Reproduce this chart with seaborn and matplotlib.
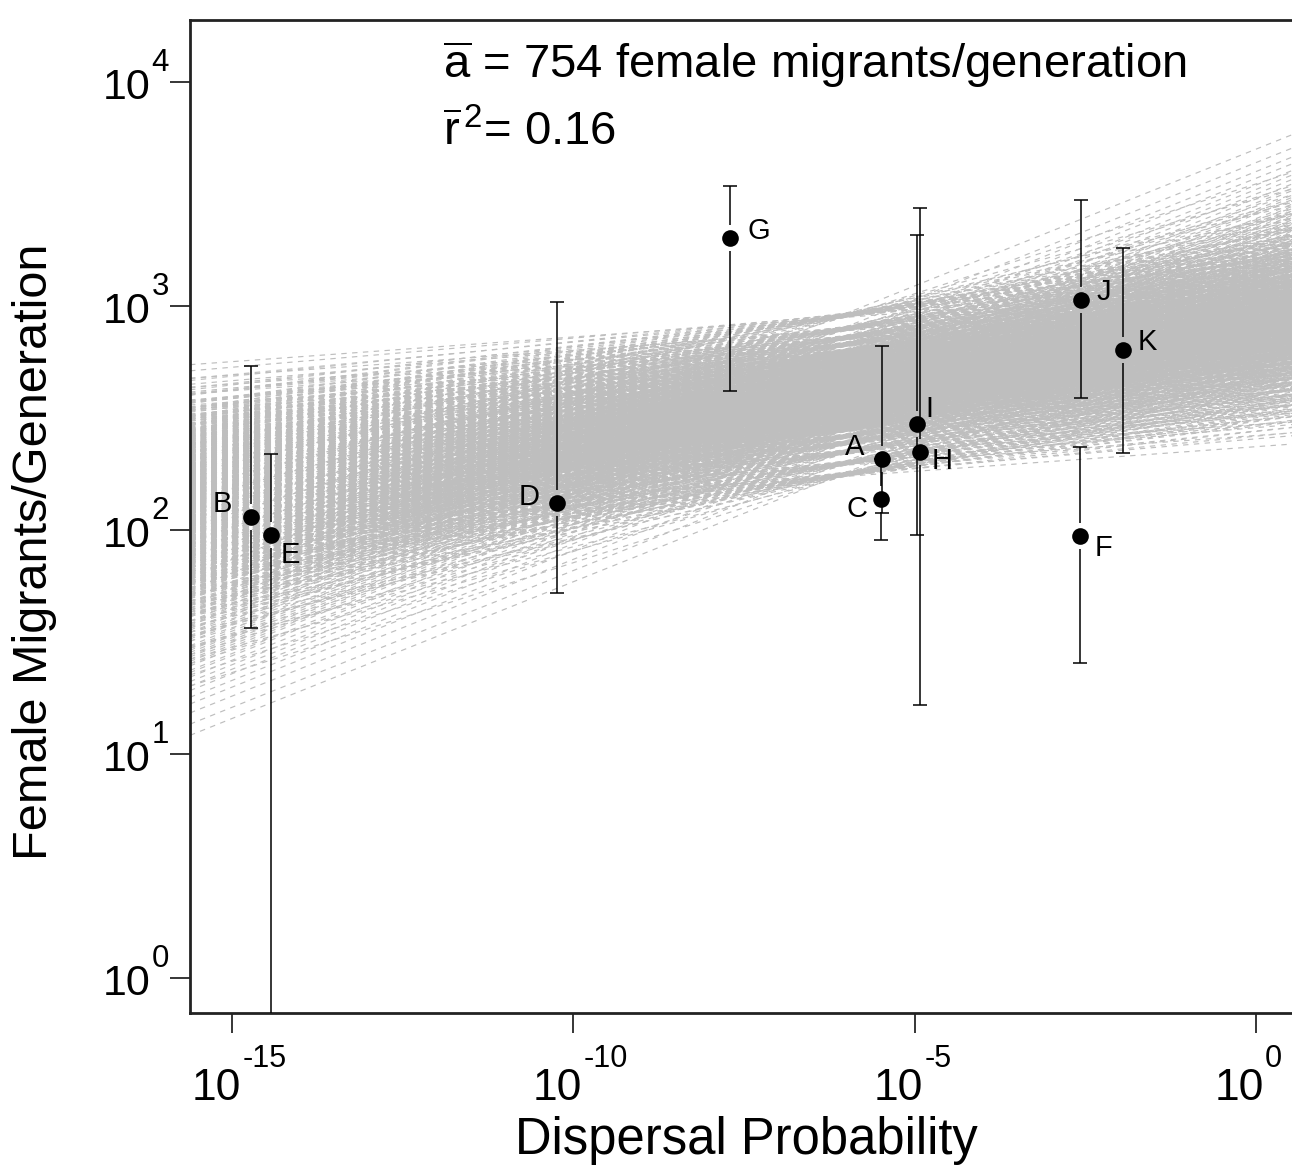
import numpy as np
import pandas as pd
import matplotlib
matplotlib.use("Agg")
import matplotlib.pyplot as plt
import seaborn as sns
from matplotlib.collections import LineCollection
from matplotlib.ticker import FixedLocator, NullLocator, NullFormatter

# ---------------- data ----------------
populations = ["A", "B", "C", "D", "E", "F", "G", "H", "I", "J", "K"]
log10_dispersal = [-5.48, -14.73, -5.49, -10.24, -14.44, -2.57, -7.71, -4.92, -4.96, -2.56, -1.94]
migrants = [207, 114, 138, 132, 95, 94, 2018, 223, 297, 1064, 636]
ci_upper = [666, 540, 207, 1038, 219, 234, 3443, 2738, 2080, 2965, 1820]
ci_lower = [118.6, 36.5, 90.2, 52.5, 0.1, 25.4, 419, 16.5, 95, 388, 220]

# regression draws: log10(M) = level + level_shift + slope * (log10(p) - pivot)
draw_pivot_log10 = -6.0
draw_levels = [2.24, 2.29, 2.34, 2.38, 2.41, 2.44, 2.46, 2.48, 2.50, 2.52, 2.53, 2.55,
               2.56, 2.57, 2.58, 2.59, 2.60, 2.61, 2.62, 2.63, 2.64, 2.66, 2.67, 2.68,
               2.70, 2.71, 2.73, 2.75, 2.77, 2.79, 2.82, 2.85, 2.89, 2.95]
draw_slopes = [0.022, 0.026, 0.029, 0.031, 0.033, 0.035, 0.037, 0.038, 0.040, 0.041,
               0.042, 0.043, 0.044, 0.045, 0.046, 0.047, 0.048, 0.049, 0.050, 0.051,
               0.052, 0.054, 0.055, 0.057, 0.059, 0.061, 0.064, 0.067, 0.070, 0.074,
               0.079, 0.086, 0.098, 0.122]
draw_level_shift = [0.000, 0.011, 0.005, 0.016, 0.002, 0.013, 0.008, 0.019, 0.004, 0.015,
                    0.001, 0.010, 0.006, 0.017, 0.003, 0.012, 0.007, 0.018, 0.009, 0.014,
                    0.0005, 0.0115, 0.0055, 0.0165, 0.0025, 0.0135, 0.0085, 0.0195, 0.0045,
                    0.0155, 0.0015, 0.0105, 0.0065, 0.0175]

x_tick_exponents = [-15, -10, -5, 0]
y_tick_exponents = [0, 1, 2, 3, 4]
mean_a = 754
mean_r2 = 0.16

# label offsets (points) relative to each point
label_offsets = {"A": (-19.4, 11.0), "B": (-20.7, 11.7), "C": (-17.5, -5.8), "D": (-20.4, 6.5),
                 "E": (14.3, -12.6), "F": (16.8, -6.5), "G": (20.9, 6.6), "H": (16.2, -4.3),
                 "I": (8.4, 13.0), "J": (16.6, 7.6), "K": (17.6, 7.6)}

# ---------------- style ----------------
sns.set_style("ticks")
plt.rcParams["font.family"] = ["Liberation Sans", "DejaVu Sans"]
plt.rcParams["mathtext.fontset"] = "custom"
plt.rcParams["mathtext.rm"] = "Liberation Sans"
plt.rcParams["mathtext.it"] = "Liberation Sans:italic"
plt.rcParams["mathtext.bf"] = "Liberation Sans:bold"
plt.rcParams["lines.scale_dashes"] = False
for k in ["text.color", "axes.labelcolor", "xtick.color", "ytick.color"]:
    plt.rcParams[k] = "black"

W, H = 1292, 1166
fig = plt.figure(figsize=(W / 100, H / 100), dpi=100)
ax_left, ax_right, ax_top, ax_bottom = 190, 1292, 20, 1013
ax = fig.add_axes([ax_left / W, 1 - ax_bottom / H, (ax_right - ax_left) / W, (ax_bottom - ax_top) / H])
ax.set_xscale("log")
ax.set_yscale("log")
xlo, xhi = -15.623, 0.535
ylo, yhi = -0.156, 4.277
ax.set_xlim(10 ** xlo, 10 ** xhi)
ax.set_ylim(10 ** ylo, 10 ** yhi)

# ---------------- regression draws ----------------
seg_x = np.array([xlo, xhi + 0.3])
segs = []
for lev in draw_levels:
    for sl, sh in zip(draw_slopes, draw_level_shift):
        ly = lev + sh + sl * (seg_x - draw_pivot_log10)
        segs.append(np.column_stack([10 ** seg_x, 10 ** ly]))
lc = LineCollection(segs, colors="#BEBEBE", linewidths=0.85,
                    linestyles=[(0, (3.9, 3.9))], zorder=1)
ax.add_collection(lc)

# ---------------- error bars with gap ----------------
df = pd.DataFrame({"pop": populations,
                   "dispersal": [10 ** v for v in log10_dispersal],
                   "migrants": migrants, "upper": ci_upper, "lower": ci_lower})
px_per_dec = (ax_bottom - ax_top) / (yhi - ylo)
gap = 10 ** (13 / px_per_dec)
for _, r in df.iterrows():
    ax.vlines(r.dispersal, r.migrants * gap, r.upper, color="black", lw=1.1, zorder=3)
    ax.vlines(r.dispersal, r.lower, r.migrants / gap, color="black", lw=1.1, zorder=3)
    ax.plot([r.dispersal, r.dispersal], [r.upper, r.lower], ls="none", marker="_",
            ms=9.6, mew=1.1, color="black", zorder=3)

sns.scatterplot(data=df, x="dispersal", y="migrants", color="black", s=144,
                linewidth=0, ax=ax, zorder=5, legend=False)

for _, r in df.iterrows():
    dx, dy = label_offsets[r["pop"]]
    ax.annotate(r["pop"], (r.dispersal, r.migrants), xytext=(dx, dy - 7.6),
                textcoords="offset points", ha="center", va="baseline", fontsize=21, zorder=6)

# ---------------- axes ----------------
ax.xaxis.set_major_locator(FixedLocator([10.0 ** e for e in x_tick_exponents]))
ax.yaxis.set_major_locator(FixedLocator([10.0 ** e for e in y_tick_exponents]))
ax.xaxis.set_major_formatter(NullFormatter())
ax.yaxis.set_major_formatter(NullFormatter())
ax.xaxis.set_minor_locator(NullLocator())
ax.yaxis.set_minor_locator(NullLocator())
ax.tick_params(axis="both", which="major", direction="out", length=14.4, width=1.1,
               color="black", bottom=True, left=True, top=False, right=False)

# tick labels as 10 + raised exponent
for e in x_tick_exponents:
    ax.annotate("10", xy=(10.0 ** e, 0), xycoords=("data", "axes fraction"),
                xytext=(5.8, -62.6), textcoords="offset points", ha="right", va="baseline",
                fontsize=32, annotation_clip=False)
    ax.annotate(str(e), xy=(10.0 ** e, 0), xycoords=("data", "axes fraction"),
                xytext=(7.0, -38.9), textcoords="offset points", ha="left", va="baseline",
                fontsize=22, annotation_clip=False)
for e in y_tick_exponents:
    ax.annotate("10", xy=(0, 10.0 ** e), xycoords=("axes fraction", "data"),
                xytext=(-28.8, -12.2), textcoords="offset points", ha="right", va="baseline",
                fontsize=31, annotation_clip=False)
    ax.annotate(str(e), xy=(0, 10.0 ** e), xycoords=("axes fraction", "data"),
                xytext=(-27.6, 8.0), textcoords="offset points", ha="left", va="baseline",
                fontsize=22.5, annotation_clip=False)

for s in ["left", "bottom", "top"]:
    ax.spines[s].set_color("#222222")
    ax.spines[s].set_linewidth(2.0)
ax.spines["right"].set_visible(False)

ax.set_ylabel("Female Migrants/Generation", fontsize=35)
ax.yaxis.label.set_va("center")
ax.yaxis.set_label_coords(-0.1407, 0.464)
ax.set_xlabel("Dispersal Probability", fontsize=36.5)
ax.xaxis.label.set_va("center")
ax.xaxis.set_label_coords(0.5045, -0.128)

ax.text(0.2296, 0.9416, r"$\overline{\mathrm{a}}$ = %d female migrants/generation" % mean_a,
        transform=ax.transAxes, fontsize=34, ha="left", va="baseline", zorder=7)
ax.text(0.2296, 0.874, r"$\overline{\mathrm{r}}^{\,2}$= %.2f" % mean_r2,
        transform=ax.transAxes, fontsize=34, ha="left", va="baseline", zorder=7)

fig.savefig("out.png", dpi=100)
